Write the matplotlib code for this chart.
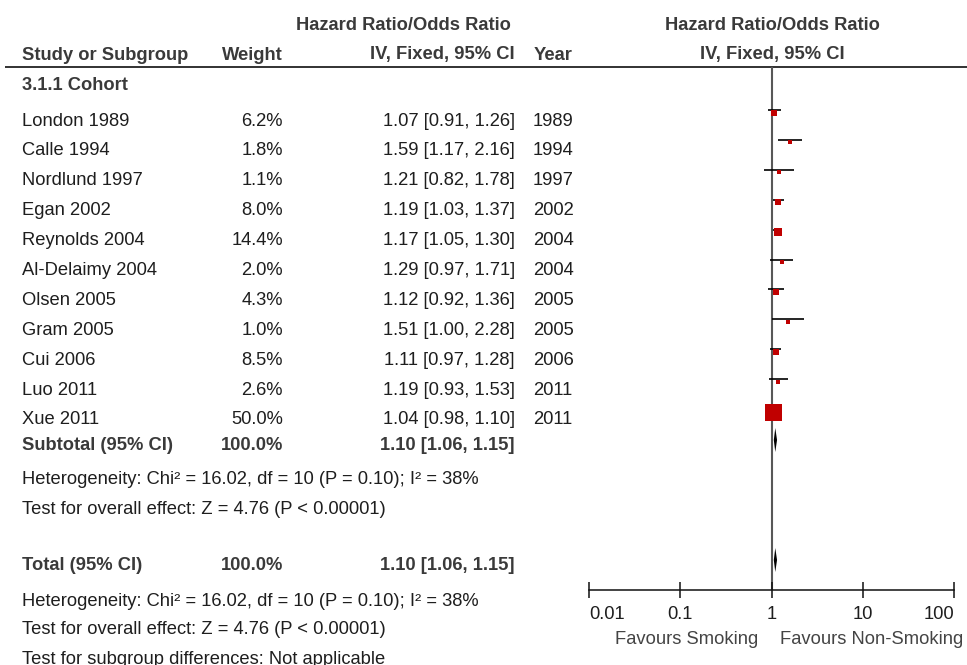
import numpy as np
import matplotlib
matplotlib.use("Agg")
import matplotlib.pyplot as plt

plt.rcParams['font.family'] = ['Liberation Sans', 'DejaVu Sans']

# Study data
studies = ["London 1989", "Calle 1994", "Nordlund 1997", "Egan 2002", "Reynolds 2004",
           "Al-Delaimy 2004", "Olsen 2005", "Gram 2005", "Cui 2006", "Luo 2011", "Xue 2011"]
years = [1989, 1994, 1997, 2002, 2004, 2004, 2005, 2005, 2006, 2011, 2011]
weights = [6.2, 1.8, 1.1, 8.0, 14.4, 2.0, 4.3, 1.0, 8.5, 2.6, 50.0]
ratio = [1.07, 1.59, 1.21, 1.19, 1.17, 1.29, 1.12, 1.51, 1.11, 1.19, 1.04]
ci_low = [0.91, 1.17, 0.82, 1.03, 1.05, 0.97, 0.92, 1.00, 0.97, 0.93, 0.98]
ci_high = [1.26, 2.16, 1.78, 1.37, 1.30, 1.71, 1.36, 2.28, 1.28, 1.53, 1.10]

# Pooled estimate (subtotal and total are the same)
pooled = (1.10, 1.06, 1.15)
pooled_weight = 100.0
het_text = "Heterogeneity: Chi\u00b2 = 16.02, df = 10 (P = 0.10); I\u00b2 = 38%"
effect_text = "Test for overall effect: Z = 4.76 (P < 0.00001)"
subgroup_text = "Test for subgroup differences: Not applicable"

tick_vals = [0.01, 0.1, 1, 10, 100]
tick_labels = ["0.01", "0.1", "1", "10", "100"]

# Layout (pixel units, y downward)
W, H = 967, 665
FS = 13.2
REG = '#1e1e1e'
BOLD = '#3a3a3a'
CAP = 6.5  # half cap height in px, to put text baseline under a row centre

x_name, x_weight, x_ci, x_year = 22, 283, 515, 533
row0, step = 119, 29.9
y_sub, y_total = 443, 564

fig = plt.figure(figsize=(W / 100, H / 100), dpi=100)
fig.patch.set_facecolor('white')

tax = fig.add_axes([0, 0, 1, 1])
tax.set_xlim(0, W)
tax.set_ylim(H, 0)
tax.axis('off')


def txt(x, y, s, ha='left', bold=False, color=None):
    tax.text(x, y + CAP, s, ha=ha, va='baseline', fontsize=FS,
             fontweight='bold' if bold else 'normal',
             color=color or (BOLD if bold else REG))


# Headers
txt(403, 24, "Hazard Ratio/Odds Ratio", ha='center', bold=True)
txt(772, 24, "Hazard Ratio/Odds Ratio", ha='center', bold=True)
txt(x_name, 53, "Study or Subgroup", bold=True)
txt(x_weight, 53, "Weight", ha='right', bold=True)
txt(x_ci, 53, "IV, Fixed, 95% CI", ha='right', bold=True)
txt(x_year + 1, 53, "Year", bold=True)
txt(772, 53, "IV, Fixed, 95% CI", ha='center', bold=True)
tax.plot([5, W], [67, 67], color='#222222', lw=1.3, solid_capstyle='butt')

txt(x_name, 83.5, "3.1.1 Cohort", bold=True)

rows = row0 + step * np.arange(len(studies))
for y, s, w, r, lo, hi, yr in zip(rows, studies, weights, ratio, ci_low, ci_high, years):
    txt(x_name, y, s)
    txt(x_weight, y, f"{w:.1f}%", ha='right')
    txt(x_ci, y, f"{r:.2f} [{lo:.2f}, {hi:.2f}]", ha='right')
    txt(x_year, y, str(yr))

pooled_str = f"{pooled[0]:.2f} [{pooled[1]:.2f}, {pooled[2]:.2f}]"
txt(x_name, y_sub, "Subtotal (95% CI)", bold=True)
txt(x_weight, y_sub, f"{pooled_weight:.1f}%", ha='right', bold=True)
txt(x_ci, y_sub, pooled_str, ha='right', bold=True)
txt(x_name, 478, het_text)
txt(x_name, 507, effect_text)

txt(x_name, y_total, "Total (95% CI)", bold=True)
txt(x_weight, y_total, f"{pooled_weight:.1f}%", ha='right', bold=True)
txt(x_ci, y_total, pooled_str, ha='right', bold=True)
txt(x_name, 599, het_text)
txt(x_name, 628, effect_text)
txt(x_name, 657, subgroup_text)

# Forest panel: log x axis, y in the same pixel units
ax_left, ax_right, ax_top, ax_bot = 589, 954, 67, 590
ax = fig.add_axes([ax_left / W, (H - ax_bot) / H,
                   (ax_right - ax_left) / W, (ax_bot - ax_top) / H])
ax.set_xscale('log')
ax.set_xlim(tick_vals[0], tick_vals[-1])
ax.set_ylim(ax_bot, ax_top)
ax.patch.set_alpha(0)
for side in ['top', 'left', 'right']:
    ax.spines[side].set_visible(False)
ax.spines['bottom'].set_linewidth(1.1)
ax.spines['bottom'].set_color('#111111')
ax.set_yticks([])
ax.set_xticks(tick_vals)
ax.set_xticklabels(tick_labels)
ax.xaxis.set_minor_locator(matplotlib.ticker.NullLocator())
ax.tick_params(axis='x', direction='inout', length=11.5, width=1.1,
               color='#111111', labelsize=FS, labelcolor=REG, pad=5.5)
labs = ax.get_xticklabels()
labs[0].set_ha('left')
labs[-1].set_ha('right')

ax.axvline(1, color='#585858', lw=1.5, zorder=1)

line_y = rows - 9
ax.hlines(line_y, ci_low, ci_high, color='black', lw=1.2, zorder=2)
sizes = [(4 + 0.26 * w) * 0.72 for w in weights]
for x, y, ms in zip(ratio, rows - 6.5, sizes):
    ax.plot(x, y, marker='s', ms=ms, mew=0, color='#c00000', zorder=3)


def diamond(y, est, lo, hi, h=12):
    ax.fill([lo, est, hi, est], [y, y - h, y, y + h], color='black', lw=0, zorder=3)


diamond(y_sub - 3, *pooled)
diamond(y_total - 4, *pooled)

txt(758, 638, "Favours Smoking", ha='right', color='#444444')
txt(780, 638, "Favours Non-Smoking", color='#444444')

fig.savefig("out.png", dpi=100, facecolor='white')
